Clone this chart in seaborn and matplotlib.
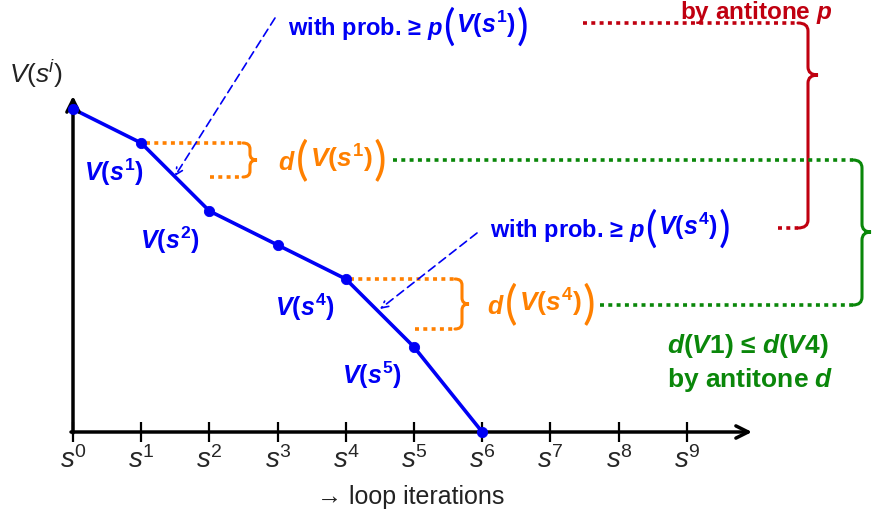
import numpy as np
import pandas as pd
import seaborn as sns
import matplotlib.pyplot as plt
from matplotlib.path import Path
from matplotlib.patches import PathPatch

# values of V along the loop iterations
iters = [0, 1, 2, 3, 4, 5, 6]
values = [9.5, 8.5, 6.5, 5.5, 4.5, 2.5, 0.0]
tick_pos = list(range(10))
tick_labels = [r'$\mathsf{s}^{\mathtt{%d}}$' % i for i in tick_pos]

blue = '#0000f5'
orange = '#ff8000'
green = '#0a870a'
red = '#c00010'

sns.set_theme(style='white')
plt.rcParams['font.family'] = ['Liberation Sans', 'DejaVu Sans']
plt.rcParams['mathtext.fontset'] = 'custom'
plt.rcParams['mathtext.rm'] = 'Liberation Sans:bold'
plt.rcParams['mathtext.it'] = 'Liberation Sans:italic:bold'
plt.rcParams['mathtext.bf'] = 'Liberation Sans:bold'
plt.rcParams['mathtext.sf'] = 'Liberation Sans:italic'
plt.rcParams['mathtext.tt'] = 'Liberation Sans'

fig = plt.figure(figsize=(8.72, 5.16), dpi=100)
ax = fig.add_axes([0, 0, 1, 1])
x0, ux, y0, uy = 73, 68.2, 432, 34
ax.set_xlim(-x0 / ux, (872 - x0) / ux)
ax.set_ylim((y0 - 516) / uy, y0 / uy)


def P(px, py):
    # pixel position -> data position (layout only)
    return ((px - x0) / ux, (y0 - py) / uy)


def dotted(p1, p2, color):
    a, b = P(*p1), P(*p2)
    ax.plot([a[0], b[0]], [a[1], b[1]], color=color, lw=2.6,
            linestyle=(0, (1.1, 1.2)), dash_capstyle='butt')


def brace(xs, yt, yb, ytip, w, color, r=8):
    xm = xs + w / 2
    pts = [(xs, yt), (xm, yt), (xm, yt + r), (xm, ytip - r), (xm, ytip),
           (xs + w, ytip), (xm, ytip), (xm, ytip + r), (xm, yb - r),
           (xm, yb), (xs, yb)]
    codes = [Path.MOVETO, Path.CURVE3, Path.CURVE3, Path.LINETO, Path.CURVE3,
             Path.CURVE3, Path.CURVE3, Path.CURVE3, Path.LINETO, Path.CURVE3,
             Path.CURVE3]
    ax.add_patch(PathPatch(Path([P(*p) for p in pts], codes), fill=False,
                           edgecolor=color, lw=2.2, capstyle='round'))


def big_paren_label(pos, prefix, inner, color, fs=16, pfs=31):
    # prefix( inner ) with tall thin parentheses
    t = ax.text(*P(*pos), prefix, fontsize=fs, fontweight='bold', color=color,
                ha='left', va='center')
    kw = dict(textcoords='offset points', color=color, ha='left', va='center')
    pk = dict(fontsize=pfs, family=['Lato', 'DejaVu Sans'], fontweight='normal')
    lp = ax.annotate('(', xy=(1, 0.5), xycoords=t, xytext=(0, 1), **kw, **pk)
    mid = ax.annotate(inner, xy=(1, 0.5), xycoords=lp, xytext=(1, 2),
                      fontsize=fs + 1, **kw)
    ax.annotate(')', xy=(1, 0.5), xycoords=mid, xytext=(1, -2), **kw, **pk)


# axes with arrows
for spine in ax.spines.values():
    spine.set_visible(False)
ax.spines['bottom'].set_position(('data', 0))
ax.annotate('', xy=P(752, 432), xytext=P(71, 432),
            arrowprops=dict(arrowstyle='->', color='black', lw=2.5,
                            mutation_scale=22, shrinkA=0, shrinkB=0))
ax.annotate('', xy=P(73, 96), xytext=P(73, 433),
            arrowprops=dict(arrowstyle='->', color='black', lw=2.5,
                            mutation_scale=22, shrinkA=0, shrinkB=0))
ax.set_xticks(tick_pos)
ax.set_xticklabels(tick_labels, fontsize=20)
ax.set_yticks([])
ax.tick_params(axis='x', direction='inout', length=14, width=1.6,
               color='black', pad=3, bottom=True)
ax.grid(False)

ax.text(*P(36, 74), r'$\mathsf{V}\mathtt{(}\mathsf{s}^{\mathsf{i}}\mathtt{)}$',
        fontsize=19, ha='center', va='center', color='#222222')
ax.text(*P(411, 497), '→ loop iterations', fontsize=18, ha='center',
        va='center', color='#222222')

# the curve
df = pd.DataFrame({'iter': iters, 'V': values})
sns.lineplot(data=df, x='iter', y='V', color=blue, lw=2.6, ax=ax)
sns.scatterplot(data=df, x='iter', y='V', color=blue, s=55,
                edgecolor=blue, zorder=5, ax=ax, clip_on=False)
ax.set_xlabel('')
ax.set_ylabel('')

for lbl, (cx, cy) in [('1', (114, 172)), ('2', (170, 240)),
                      ('4', (305, 307)), ('5', (372, 375))]:
    ax.text(*P(cx, cy), r'$V(s^{%s})$' % lbl, fontsize=18, color=blue,
            ha='center', va='center')

# orange differences
dotted((146, 143), (243, 143), orange)
dotted((210, 177), (243, 177), orange)
brace(243, 143, 177, 160, 14, orange, r=6)
big_paren_label((278, 163), r'$d$', r'$V(s^{1})$', orange, fs=18, pfs=34)
dotted((350, 279), (455, 279), orange)
dotted((415, 329), (455, 329), orange)
brace(455, 279, 329, 304, 14, orange, r=6)
big_paren_label((487, 307), r'$d$', r'$V(s^{4})$', orange, fs=18, pfs=34)

# probability annotations
ax.annotate('', xy=P(175, 176), xytext=P(275, 18),
            arrowprops=dict(arrowstyle='->', color=blue, lw=1.2,
                            linestyle=(0, (5, 3)), shrinkA=0, shrinkB=0))
big_paren_label((288, 28), r'with prob. ≥ $p$', r'$V(s^{1})$', blue, fs=17)
ax.annotate('', xy=P(380, 309), xytext=P(477, 233),
            arrowprops=dict(arrowstyle='->', color=blue, lw=1.2,
                            linestyle=(0, (5, 3)), shrinkA=0, shrinkB=0))
big_paren_label((490, 230), r'with prob. ≥ $p$', r'$V(s^{4})$', blue, fs=17)

# green: antitone d
dotted((393, 160), (853, 160), green)
dotted((600, 305), (853, 305), green)
brace(853, 160, 305, 232, 18, green)
ax.text(*P(667, 346), r'$d(V1)$ ≤ $d(V4)$', fontsize=19, fontweight='bold',
        color=green, ha='left', va='center')
ax.text(*P(667, 380), r'by antitone $d$', fontsize=19, fontweight='bold',
        color=green, ha='left', va='center')

# red: antitone p
dotted((583, 23), (798, 23), red)
dotted((778, 228), (798, 228), red)
brace(798, 23, 228, 75, 20, red)
ax.text(*P(680, 19), r'by antitone $p$', fontsize=17.5, fontweight='bold',
        color=red, ha='left', va='baseline')

fig.savefig('out.png', dpi=100)
